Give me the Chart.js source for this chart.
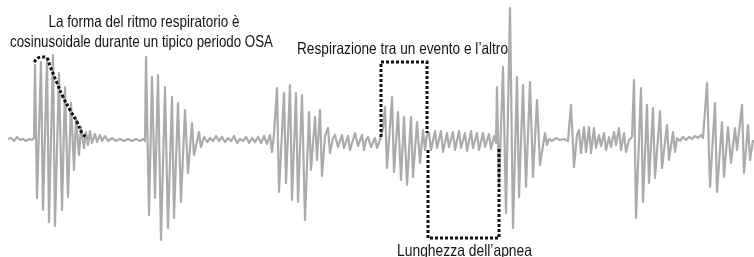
<!DOCTYPE html>
<html lang="it">
<head>
<meta charset="utf-8">
<title>Ritmo respiratorio OSA</title>
<script src="https://cdn.jsdelivr.net/npm/chart.js@4.4.1/dist/chart.umd.min.js"></script>
<style>
  html, body { margin: 0; padding: 0; background: #fff; }
  #wrap { width: 754px; height: 257px; }
</style>
</head>
<body>
<div id="wrap"><canvas id="osaChart" width="754" height="257"></canvas></div>
<script>
'use strict';

// ── Respiratory signal (time index, amplitude around baseline) ──
const time = [
  8, 11, 14, 17, 20, 23, 26, 29, 32, 34,
  35, 37, 41, 43, 47, 49, 53, 55, 59, 62, 65, 68, 71, 74, 76, 79, 81, 84, 86, 88,
  90, 92, 95, 97, 100, 102, 105, 108, 112, 116, 120, 124, 128, 132, 136, 140, 143, 145,
  146, 149, 152, 155, 158, 161, 165, 168, 172, 174, 178, 181, 185, 188, 192, 194, 199, 201,
  204, 207, 210, 213, 216, 219, 222, 225, 228, 231, 234, 237, 240, 243, 246, 249, 252, 255, 258, 261, 264, 267, 270, 272, 274,
  277, 279, 284, 286, 290, 292, 296, 298, 302, 305, 309, 311, 315, 317, 320, 322, 325,
  328, 330, 333, 335, 338, 342, 344, 348, 350, 353, 355, 358, 362, 364, 366, 368, 371, 375, 377, 380,
  383, 385, 387, 392, 394, 398, 401, 404, 407, 411, 413, 417, 420, 423, 425, 427,
  429, 431, 435, 437, 441, 443, 447, 449, 453, 455, 459, 461, 465, 467, 471, 473, 477, 479, 483, 485, 489, 491, 494, 496,
  497, 499, 503, 506, 510, 513, 517, 519, 523, 526, 530, 533, 537, 540, 545, 547,
  549, 552, 556, 560, 564, 568,
  571, 574, 577,
  579, 581, 584, 586, 589, 591, 594, 596, 599, 601, 604, 606, 609, 611, 614, 616, 619, 621, 624, 626, 629, 632,
  634, 636, 641, 643, 647, 649, 653, 655, 660, 662, 667, 669, 673, 675, 677,
  680, 683, 686, 689, 692, 695, 698, 701, 703,
  707, 710, 715, 717, 722, 724, 728, 731, 735, 737, 742, 744, 748, 750, 753
];
const amplitude = [
  1, 2, -1, 3, 0, 1, -1, 1, 0, 2,
  75, -58, 78, -70, 82, -82, 85, -86, 67, -70, 53, -57, 37, -30, 22, -15, 13, -8, 8, -5,
  9, -3, 6, -2, 5, -1, 4, -1, 2, -1, 1, -1, 1, -1, 1, -1, 1, -1,
  83, -75, 63, -58, 65, -100, 53, -88, 43, -78, 37, -62, 30, -33, 17, -15, 8, -7,
  3, -2, 2, -1, 4, -1, 3, -2, 2, -1, 4, -3, 1, -1, 3, -3, 2, -2, 3, -3, 4, -4, 5, -12, 6,
  52, -52, 47, -43, 55, -60, 47, -62, 45, -80, 28, -30, 23, -20, 30, -36, 4,
  12, -13, 2, 5, -7, 5, -8, 4, -10, 0, 7, -6, 5, -10, 0, 3, -7, 2, -8, 0,
  12, 33, -28, 43, -32, 28, -40, 23, -45, 23, -37, 18, -23, 10, -10, 5,
  7, -10, 9, -8, 9, -12, 7, -7, 8, -10, 9, -8, 7, -11, 9, -8, 7, -10, 7, -7, 6, -9, 4, -3,
  53, -47, 73, -73, 132, -88, 63, -57, 55, -47, 58, -37, 40, -25, 7, -5,
  1, -1, 2, 0, 1, -1,
  35, -27, 5,
  10, -13, 13, -12, 13, -13, 12, -8, 5, -6, 7, -10, 3, -7, 8, -5, 12, -10, 7, -12, 0, 3,
  60, -78, 52, -62, 35, -43, 32, -38, 29, -28, 15, -20, 8, -12, 2,
  -1, 3, 0, 3, 1, 4, 2, 5, 2,
  57, -47, 37, -52, 18, -37, 13, -23, 12, -10, 35, -33, 15, -20, 0
];

// ── Dashed annotation shapes ──
const envelopeTime = [34, 38, 42, 47, 50, 57, 63, 70, 77, 82, 87];
const envelopeAmp  = [78, 82, 83, 82, 74, 57, 43, 30, 18, 7, 2];
const breathTime   = [381, 381, 427, 427];
const breathAmp    = [3, 78, 78, 7];
const apneaTime    = [428, 428, 499, 499];
const apneaAmp     = [-10, -98, -98, -7];

// ── Labels ──
const labels = [
  { text: 'La forma del ritmo respiratorio è',            cx: 144,   base: 113.5, w: 191 },
  { text: 'cosinusoidale durante un tipico periodo OSA',  cx: 141.5, base: 93.5,  w: 263 },
  { text: 'Respirazione tra un evento e l\u2019altro',    cx: 402.5, base: 86.5,  w: 211 },
  { text: 'Lunghezza dell\u2019apnea',                    cx: 464.5, base: -116,  w: 135 }
];

const pts = (xs, ys) => xs.map((x, i) => ({ x: x, y: ys[i] }));

const FONT = "'Liberation Sans Narrow', 'Liberation Sans', 'DejaVu Sans', sans-serif";

// condensed-looking text: normal font squeezed horizontally to the reference width
const labelPlugin = {
  id: 'osaLabels',
  afterDatasetsDraw(chart) {
    const c = chart.ctx;
    const xs = chart.scales.x, ys = chart.scales.y;
    c.save();
    c.fillStyle = '#141414';
    c.textAlign = 'center';
    c.textBaseline = 'alphabetic';
    c.font = '16.5px ' + FONT;
    labels.forEach(l => {
      const m = c.measureText(l.text).width;
      c.save();
      c.translate(xs.getPixelForValue(l.cx), ys.getPixelForValue(l.base));
      c.scale(l.w / m, 1);
      c.fillText(l.text, 0, 0);
      c.restore();
    });
    c.restore();
  }
};

// dashed marks sit on top of the grey trace (lower order = drawn last)
const dashed = {
  borderColor: '#111', borderWidth: 3, borderDash: [3, 2],
  pointRadius: 0, fill: false, clip: false, order: 0
};

new Chart(document.getElementById('osaChart').getContext('2d'), {
  type: 'line',
  data: {
    datasets: [
      {
        label: 'Respiro',
        data: pts(time, amplitude),
        borderColor: '#ababab', borderWidth: 2.2,
        pointRadius: 0, tension: 0, fill: false, clip: false,
        borderJoinStyle: 'round', order: 1
      },
      Object.assign({ label: 'Inviluppo', data: pts(envelopeTime, envelopeAmp), tension: 0.4 }, dashed),
      Object.assign({ label: 'Respirazione', data: pts(breathTime, breathAmp), tension: 0 }, dashed),
      Object.assign({ label: 'Apnea', data: pts(apneaTime, apneaAmp), tension: 0 }, dashed)
    ]
  },
  options: {
    responsive: false, animation: false,
    layout: { padding: 0 },
    plugins: { legend: { display: false }, tooltip: { enabled: false } },
    scales: {
      x: { type: 'linear', min: 0, max: 754, display: false },
      y: { min: -117, max: 140, display: false }
    }
  },
  plugins: [labelPlugin]
});
</script>
</body>
</html>
